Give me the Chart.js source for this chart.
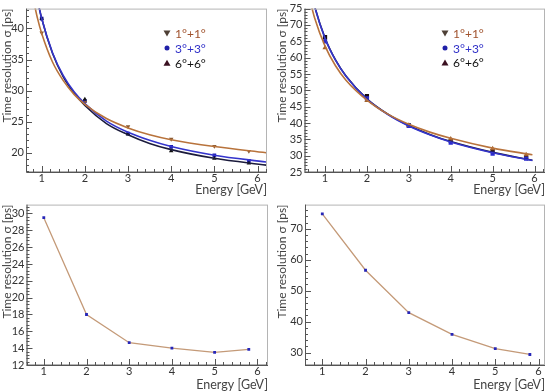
<!DOCTYPE html>
<html>
<head>
<meta charset="utf-8">
<script src="https://cdn.jsdelivr.net/npm/chart.js@4.4.1/dist/chart.umd.min.js"></script>
<style>
  body { margin: 0; background: #fff; }
  .pane { position: absolute; }
</style>
</head>
<body>
<canvas id="c1" class="pane" width="275" height="196" style="left:0;top:0"></canvas>
<canvas id="c2" class="pane" width="275" height="196" style="left:275px;top:0"></canvas>
<canvas id="c3" class="pane" width="275" height="195" style="left:0;top:196px"></canvas>
<canvas id="c4" class="pane" width="275" height="195" style="left:275px;top:196px"></canvas>
<script>
// ---------------- data ----------------
const energy = [1, 2, 3, 4, 5, 5.8];
const xTicks = [1, 2, 3, 4, 5, 6];

// top left
const tl_11 = [39.3, 28.1, 24.2, 22.2, 21.05, 20.25];
const tl_33 = [41.6, 28.3, 23.1, 20.95, 19.6, 18.7];
const tl_66 = [41.6, 28.6, 23.0, 20.3, 19.1, 18.3];
const tlFitE = [0.8, 0.9, 1, 1.25, 1.5, 1.75, 2, 2.5, 3, 3.5, 4, 5, 6.2];
const tlFit_11 = [44.9, 41.7, 39.2, 34.6, 31.6, 29.4, 27.8, 25.5, 24.0, 22.9, 22.1, 21.0, 20.0];
const tlFit_33 = [48.5, 44.7, 41.6, 36.1, 32.4, 29.8, 27.9, 25.1, 23.3, 22.0, 21.0, 19.6, 18.5];
const tlFit_66 = [48.6, 44.7, 41.6, 36.0, 32.2, 29.6, 27.6, 24.7, 22.9, 21.5, 20.5, 19.1, 18.0];
const tlYTicks = [20, 25, 30, 35, 40];

// top right
const tr_11 = [63.0, 46.9, 39.3, 35.1, 32.1, 30.3];
const tr_33 = [65.0, 47.5, 39.1, 34.0, 30.6, 29.1];
const tr_66 = [66.3, 48.2, 39.3, 34.6, 31.4, 29.4];
const trFitE = [0.65, 0.75, 1, 1.25, 1.5, 2, 2.5, 3, 3.5, 4, 5, 5.95];
const trFit_11 = [77.1, 72.2, 63.5, 57.5, 53.1, 47.0, 42.7, 39.6, 37.2, 35.3, 32.3, 30.3];
const trFit_33 = [81.1, 75.7, 65.9, 59.2, 54.3, 47.3, 42.6, 39.1, 36.4, 34.2, 30.9, 28.5];
const trFit_66 = [81.2, 75.8, 66.0, 59.3, 54.4, 47.4, 42.7, 39.2, 36.5, 34.3, 31.0, 28.6];
const trYTicks = [25, 30, 35, 40, 45, 50, 55, 60, 65, 70, 75];

// bottom
const bl = [29.5, 18.0, 14.65, 14.0, 13.5, 13.85];
const blYTicks = [12, 14, 16, 18, 20, 22, 24, 26, 28, 30];
const br = [74.8, 56.6, 42.9, 35.9, 31.3, 29.4];
const brYTicks = [30, 40, 50, 60, 70];

const legendLabels = ['1°+1°', '3°+3°', '6°+6°'];

//-----------------------------------------------
const FONT = 'Lato';
const BROWN = '#b8733c', BLUE = '#3434cc', NAVY = '#1b1b3c';

function pts(xs, ys) { return xs.map((x, i) => ({ x: x, y: ys[i] })); }

// ROOT-like frame with inward ticks, plus the in-pad legend
const rootFrame = {
  id: 'rootFrame',
  afterDraw(chart, args, o) {
    const c = chart.ctx, a = chart.chartArea;
    const xs = chart.scales.x, ys = chart.scales.y;
    c.save();
    c.strokeStyle = '#b4b4b4'; c.lineWidth = 1;
    c.strokeRect(a.left + 0.5, a.top + 0.5, a.right - a.left - 1, a.bottom - a.top - 1);
    c.strokeStyle = '#555'; c.beginPath();
    c.moveTo(a.left + 0.5, a.top); c.lineTo(a.left + 0.5, a.bottom + 0.5); c.lineTo(a.right, a.bottom + 0.5);
    c.stroke();
    c.beginPath();
    for (let v = Math.ceil(xs.min / o.xMinor) * o.xMinor; v <= xs.max + 1e-9; v += o.xMinor) {
      const p = Math.round(xs.getPixelForValue(v)) + 0.5;
      const major = Math.abs(v - Math.round(v / o.xMajor) * o.xMajor) < 1e-6;
      c.moveTo(p, a.bottom); c.lineTo(p, a.bottom - (major ? 6 : 3));
    }
    for (let v = Math.ceil(ys.min / o.yMinor) * o.yMinor; v <= ys.max + 1e-9; v += o.yMinor) {
      const p = Math.round(ys.getPixelForValue(v)) + 0.5;
      const major = Math.abs(v - Math.round(v / o.yMajor) * o.yMajor) < 1e-6;
      c.moveTo(a.left, p); c.lineTo(a.left + (major ? 6 : 3), p);
    }
    c.stroke();
    if (o.legend) {
      const L = o.legend;
      c.font = '12px ' + FONT; c.textBaseline = 'middle'; c.textAlign = 'left';
      L.items.forEach((it, i) => {
        const y = L.y + i * L.dy, x = L.x;
        c.fillStyle = it.mark;
        c.beginPath();
        if (it.shape === 'down') { c.moveTo(x - 3.5, y - 3); c.lineTo(x + 3.5, y - 3); c.lineTo(x, y + 3); }
        else if (it.shape === 'up') { c.moveTo(x - 3.5, y + 3); c.lineTo(x + 3.5, y + 3); c.lineTo(x, y - 3); }
        else { c.arc(x, y, 2.5, 0, Math.PI * 2); }
        c.closePath(); c.fill();
        c.fillStyle = it.color;
        c.fillText(it.text, x + 8, y + 1);
      });
    }
    c.restore();
  }
};

function makeChart(id, cfg) {
  const fixedY = cfg.yw, fixedX = cfg.xh;
  return new Chart(document.getElementById(id), {
    type: 'scatter',
    data: { datasets: cfg.datasets },
    options: {
      responsive: false,
      animation: false,
      layout: { padding: { top: cfg.top, right: cfg.right, left: 0, bottom: 0 } },
      plugins: {
        legend: { display: false },
        tooltip: { enabled: false },
        rootFrame: cfg.frame
      },
      scales: {
        x: {
          type: 'linear', min: cfg.xr[0], max: cfg.xr[1],
          grid: { display: false, drawTicks: false }, border: { display: false },
          afterBuildTicks: s => { s.ticks = xTicks.map(v => ({ value: v })); },
          afterFit: s => { s.height = fixedX; },
          ticks: { color: '#333', padding: 0, font: { family: FONT, size: 11 }, maxRotation: 0 },
          title: { display: true, text: 'Energy [GeV]', align: 'end', color: '#444',
                   font: { family: FONT, size: 12.5, lineHeight: 1 }, padding: { top: 0, bottom: 0 } }
        },
        y: {
          type: 'linear', min: cfg.yr[0], max: cfg.yr[1],
          grid: { display: false, drawTicks: false }, border: { display: false },
          afterBuildTicks: s => { s.ticks = cfg.yTicks.map(v => ({ value: v })); },
          afterFit: s => { s.width = fixedY; },
          ticks: { color: '#333', padding: 2, font: { family: FONT, size: 11 } },
          title: { display: true, text: 'Time resolution σ [ps]', align: 'end', color: '#444',
                   font: { family: FONT, size: 12, lineHeight: 1.1 }, padding: { top: 1, bottom: 0 } }
        }
      }
    },
    plugins: [rootFrame]
  });
}

function fitLine(xs, ys, color) {
  return { data: pts(xs, ys), showLine: true, borderColor: color, borderWidth: 1.6,
           pointRadius: 0, cubicInterpolationMode: 'monotone' };
}
function marks(ys, color, style, rot, r) {
  return { data: pts(energy, ys), showLine: false, pointStyle: style, rotation: rot || 0,
           pointRadius: r || 2.6, backgroundColor: color, borderColor: color, borderWidth: 0 };
}
const legendItems = [
  { text: legendLabels[0], color: '#a0522d', mark: '#4e4036', shape: 'down' },
  { text: legendLabels[1], color: '#3030c8', mark: '#2020a8', shape: 'dot' },
  { text: legendLabels[2], color: '#111', mark: '#3a1020', shape: 'up' }
];

makeChart('c1', {
  xr: [0.636, 6.22], yr: [16.9, 43.2], yTicks: tlYTicks, yw: 26, xh: 24, top: 6.5, right: 8,
  frame: { xMajor: 1, xMinor: 0.2, yMajor: 5, yMinor: 1,
           legend: { x: 167, y: 33.5, dy: 14.6, items: legendItems } },
  datasets: [
    fitLine(tlFitE, tlFit_11, BROWN), fitLine(tlFitE, tlFit_33, BLUE), fitLine(tlFitE, tlFit_66, NAVY),
    marks(tl_11, '#8a5a30', 'triangle', 180), marks(tl_66, '#111', 'triangle'), marks(tl_33, '#1c1cb4', 'rect')
  ]
});

makeChart('c2', {
  xr: [0.51, 6.25], yr: [25, 75], yTicks: trYTicks, yw: 29.5, xh: 24, top: 6, right: 5,
  frame: { xMajor: 1, xMinor: 0.2, yMajor: 5, yMinor: 1,
           legend: { x: 170, y: 33.5, dy: 14.5, items: legendItems } },
  datasets: [
    fitLine(trFitE, trFit_11, BROWN), fitLine(trFitE, trFit_33, BLUE), fitLine(trFitE, trFit_66, NAVY),
    marks(tr_11, '#a0602a', 'triangle', 0, 3), marks(tr_33, '#2a2ad0', 'rect', 0, 3), marks(tr_66, '#1a0a10', 'rect', 0, 3)
  ]
});

makeChart('c3', {
  xr: [0.595, 6.25], yr: [12, 31.05], yTicks: blYTicks, yw: 26.5, xh: 26, top: 4.5, right: 7,
  frame: { xMajor: 1, xMinor: 0.2, yMajor: 2, yMinor: 0.4 },
  datasets: [
    { data: pts(energy, bl), showLine: true, borderColor: '#c49a78', borderWidth: 1.3,
      pointStyle: 'rect', pointRadius: 2, backgroundColor: '#2626b8',
      pointBorderColor: '#2626b8', pointBorderWidth: 0 }
  ]
});

makeChart('c4', {
  xr: [0.6, 6.15], yr: [26, 77.8], yTicks: brYTicks, yw: 30, xh: 26, top: 4, right: 5,
  frame: { xMajor: 1, xMinor: 0.2, yMajor: 10, yMinor: 2 },
  datasets: [
    { data: pts(energy, br), showLine: true, borderColor: '#c49a78', borderWidth: 1.3,
      pointStyle: 'rect', pointRadius: 2, backgroundColor: '#2626b8',
      pointBorderColor: '#2626b8', pointBorderWidth: 0 }
  ]
});
</script>
</body>
</html>
